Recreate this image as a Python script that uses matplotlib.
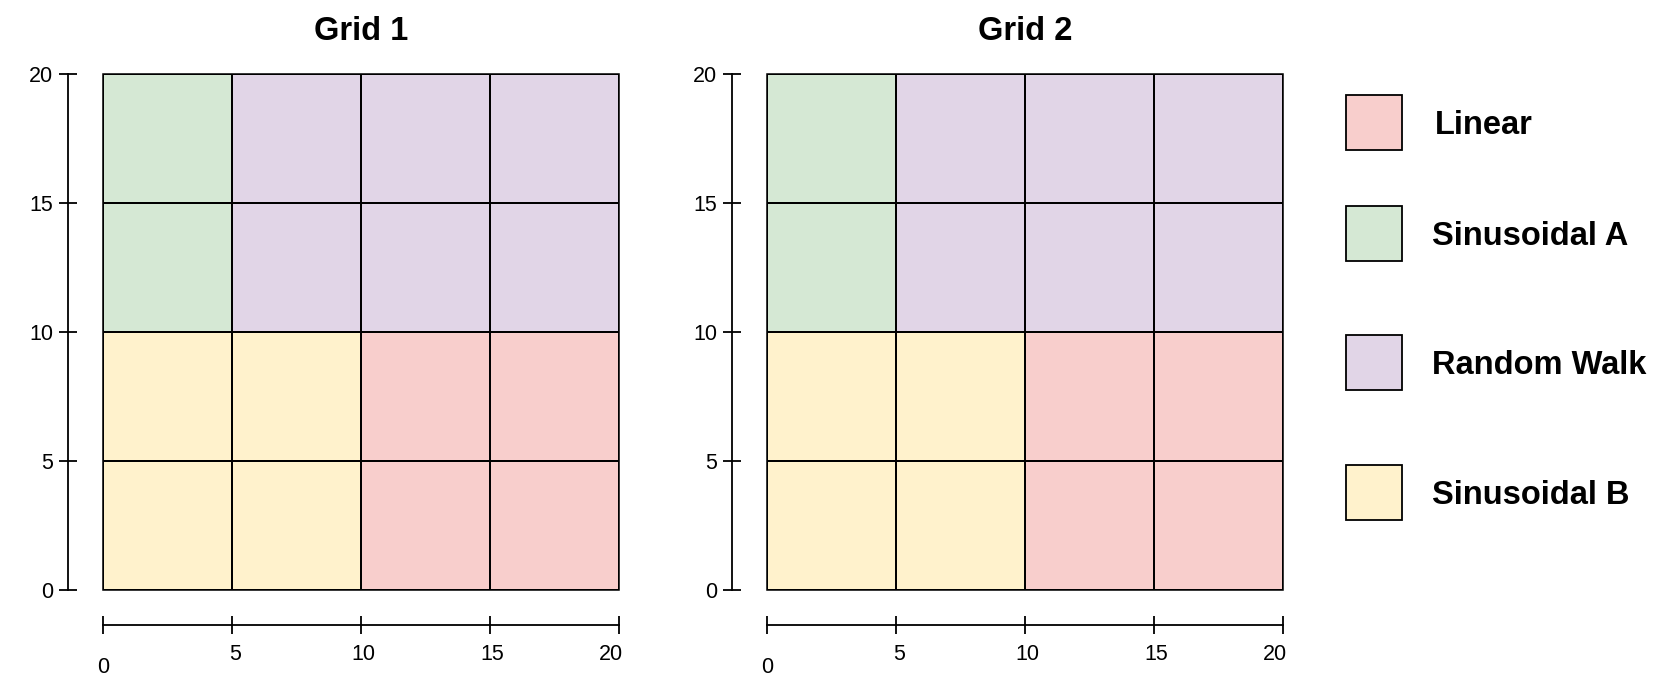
import numpy as np
import matplotlib.pyplot as plt
from matplotlib.colors import ListedColormap
from matplotlib.patches import Rectangle
import matplotlib.transforms as mtransforms

plt.rcParams['font.family'] = ['Liberation Sans', 'DejaVu Sans']

# categorias y colores
categories = ["Linear", "Sinusoidal A", "Random Walk", "Sinusoidal B"]
colors = ["#f8cecc", "#d5e8d4", "#e1d5e7", "#fff2cc"]

# bordes de las celdas
x_edges = [0, 5, 10, 15, 20]
y_edges = [0, 5, 10, 15, 20]
ticks = [0, 5, 10, 15, 20]
tick_labels = ["0", "5", "10", "15", "20"]

# filas de abajo hacia arriba
grid_1 = [
    ["Sinusoidal B", "Sinusoidal B", "Linear", "Linear"],
    ["Sinusoidal B", "Sinusoidal B", "Linear", "Linear"],
    ["Sinusoidal A", "Random Walk", "Random Walk", "Random Walk"],
    ["Sinusoidal A", "Random Walk", "Random Walk", "Random Walk"],
]
grid_2 = [
    ["Sinusoidal B", "Sinusoidal B", "Linear", "Linear"],
    ["Sinusoidal B", "Sinusoidal B", "Linear", "Linear"],
    ["Sinusoidal A", "Random Walk", "Random Walk", "Random Walk"],
    ["Sinusoidal A", "Random Walk", "Random Walk", "Random Walk"],
]
titles = ["Grid 1", "Grid 2"]

W, H = 1661, 690
fig = plt.figure(figsize=(W / 100, H / 100), dpi=100)
cmap = ListedColormap(colors)

# posiciones de los ejes en pixeles (izq, abajo, ancho, alto)
boxes = [(103, 100, 516, 516), (767, 100, 516, 516)]

for grid, title, (l, b, w, h) in zip([grid_1, grid_2], titles, boxes):
    ax = fig.add_axes([l / W, b / H, w / W, h / H])
    idx = np.array([[categories.index(c) for c in row] for row in grid])
    ax.pcolormesh(x_edges, y_edges, idx, cmap=cmap, vmin=-0.5,
                  vmax=len(categories) - 0.5, edgecolors="black",
                  linewidth=1.1)
    ax.set_xlim(0, 20)
    ax.set_ylim(0, 20)
    for s in ["top", "right"]:
        ax.spines[s].set_visible(False)
    for s in ["left", "bottom"]:
        ax.spines[s].set_position(("outward", 25.2))
        ax.spines[s].set_linewidth(1.3)
        ax.spines[s].set_bounds(0, 20)
    # borde del area
    ax.add_patch(Rectangle((0, 0), 20, 20, fill=False, edgecolor="black",
                           linewidth=1.1, clip_on=False, zorder=3))
    ax.set_xticks(ticks)
    ax.set_xticklabels(tick_labels)
    ax.set_yticks(ticks)
    ax.set_yticklabels(tick_labels)
    ax.tick_params(axis="both", direction="inout", length=13, width=1.3,
                   labelsize=15.5, color="black")
    ax.tick_params(axis="x", pad=7.5)
    ax.tick_params(axis="y", pad=4)
    # pequeños desplazamientos de las etiquetas del eje x
    shifts = [(0, -13), (3, 0), (2, 0), (2, 0), (-8, 0)]
    for lab, (dx, dy) in zip(ax.get_xticklabels(), shifts):
        lab.set_transform(lab.get_transform() + mtransforms.ScaledTranslation(
            dx / 100, dy / 100, fig.dpi_scale_trans))
    ax.set_title(title, fontsize=23.5, fontweight="bold", pad=24.5)

# leyenda manual
lg = fig.add_axes([0, 0, 1, 1])
lg.set_xlim(0, W)
lg.set_ylim(H, 0)
lg.axis("off")
leg_y = [122, 233, 362, 492]
leg_tx = [1435, 1432, 1432, 1432]
for cat, col, yc, tx in zip(categories, colors, leg_y, leg_tx):
    lg.add_patch(Rectangle((1346, yc - 27.5), 56, 55, facecolor=col,
                           edgecolor="black", linewidth=1.3))
    lg.text(tx, yc, cat, fontsize=23.5, fontweight="bold",
            va="center_baseline", ha="left")

fig.savefig("out.png", dpi=100)
